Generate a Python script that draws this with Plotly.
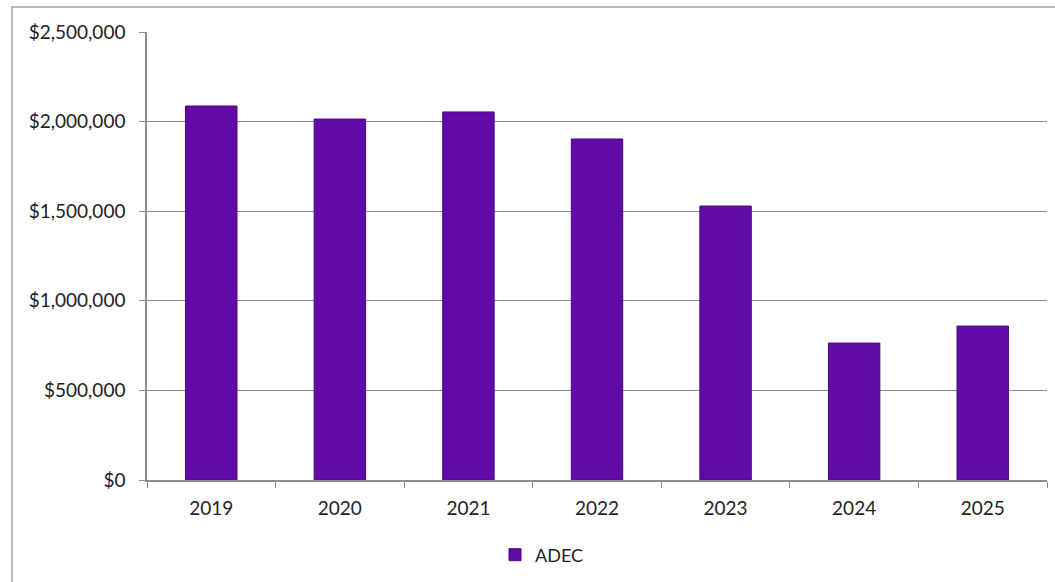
import plotly.graph_objects as go

years = ["2019", "2020", "2021", "2022", "2023", "2024", "2025"]
adec = [2087000, 2014000, 2054000, 1903000, 1529000, 764000, 859000]
y_ticks = [0, 500000, 1000000, 1500000, 2000000, 2500000]
y_tick_text = ["$0", "$500,000", "$1,000,000", "$1,500,000", "$2,000,000", "$2,500,000"]

W, H = 1055, 582
L, R, T, B = 147, 8, 32, 102
pw, ph = W - L - R, H - T - B

fig = go.Figure()
fig.add_trace(go.Bar(
    x=years, y=adec, name="ADEC",
    marker=dict(color="#600AA8", line=dict(color="#4A0785", width=1)),
    width=0.40,
))

font = dict(family="Lato, Open Sans, sans-serif", size=19, color="#222222")

fig.update_layout(
    width=W, height=H,
    margin=dict(l=L, r=R, t=T, b=B),
    paper_bgcolor="white", plot_bgcolor="white",
    font=font,
    showlegend=True,
    legend=dict(orientation="h", x=(542 - L) / pw, xanchor="center",
                y=(T + ph - 555) / ph, yanchor="middle",
                font=dict(family="Lato, Open Sans, sans-serif", size=18, color="#222222"),
                itemwidth=30),
    xaxis=dict(type="category", showline=True, linecolor="#8c8c8c", linewidth=1.5,
               ticks="outside", tickson="boundaries", ticklen=6, tickcolor="#8c8c8c",
               showgrid=False, tickfont=font, ticklabelstandoff=10),
    yaxis=dict(range=[0, 2500000], tickvals=y_ticks, ticktext=y_tick_text,
               showline=True, linecolor="#8c8c8c", linewidth=1.5,
               ticks="outside", ticklen=6, tickcolor="#8c8c8c",
               showgrid=True, gridcolor="#8c8c8c", gridwidth=1.2,
               zeroline=False, tickfont=font, ticklabelstandoff=10),
    shapes=[dict(type="rect", xref="paper", yref="paper",
                 x0=(12 - L) / pw, x1=(W + 5 - L) / pw,
                 y0=(T + ph - (H + 5)) / ph, y1=(T + ph - 7) / ph,
                 line=dict(color="#a0a0a0", width=1.5), layer="below")],
)

fig.write_html("out.html")
